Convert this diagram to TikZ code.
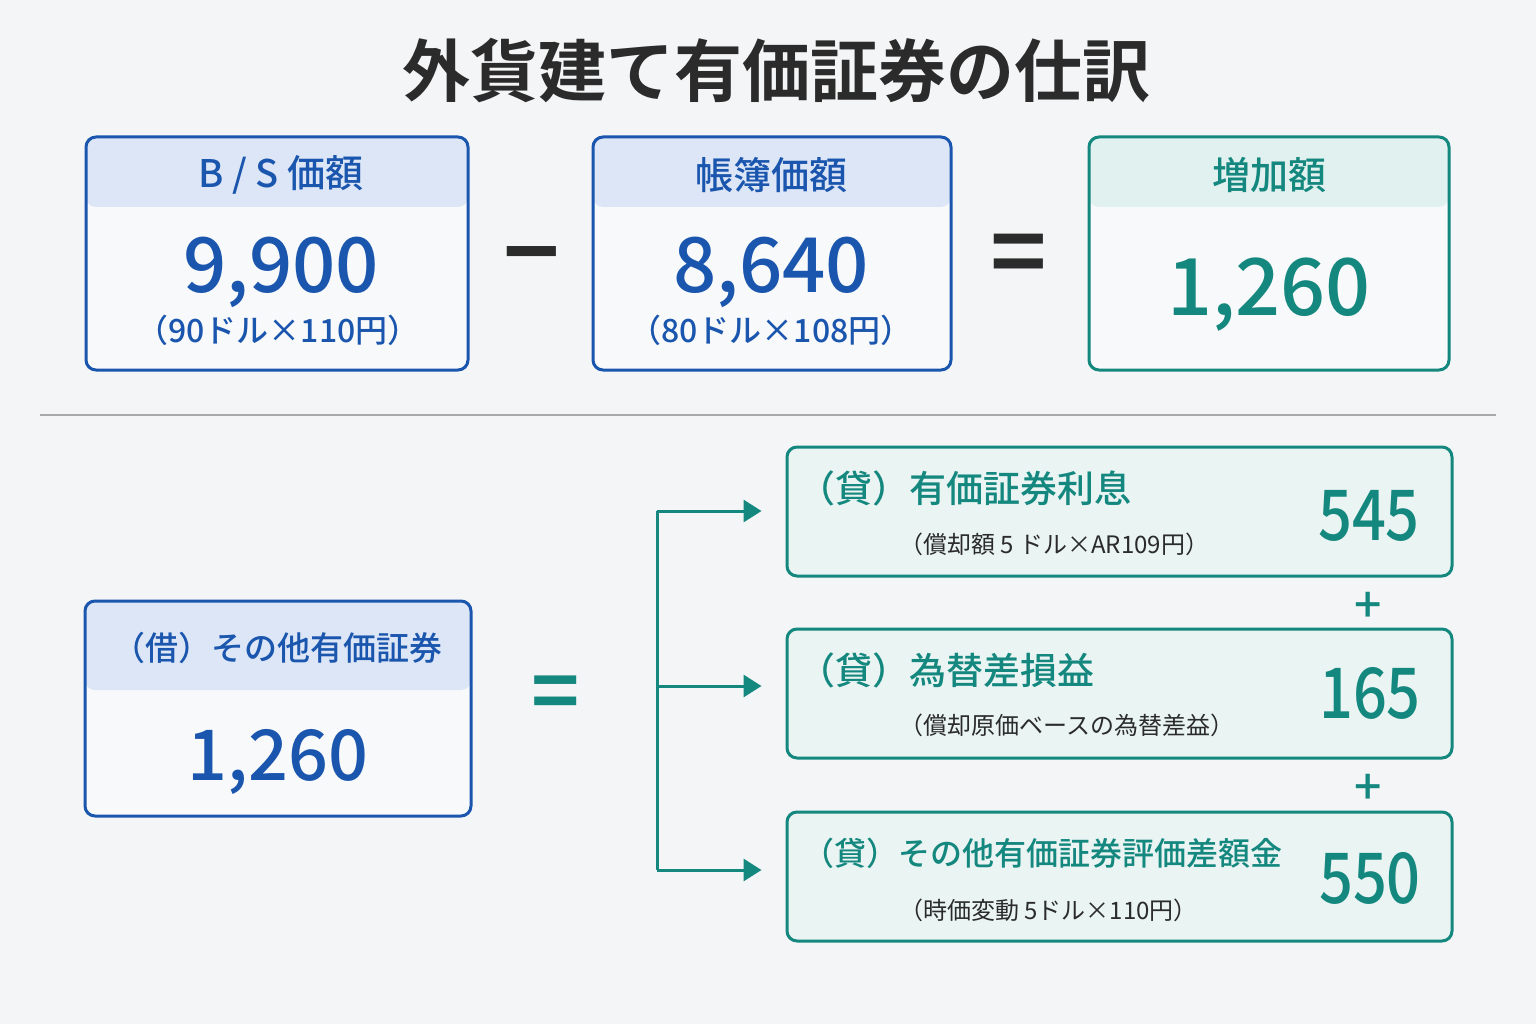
\documentclass[tikz,border=0pt]{standalone}
\usepackage{fontspec}
\setmainfont{Noto Sans CJK JP}[BoldFont={Noto Sans CJK JP Medium}]
\newfontfamily\heavyfont{Noto Sans CJK JP Bold}
\newfontfamily\condfont{Noto Sans CJK JP Medium}[FakeStretch=0.85]
\usepackage{tikz}
\usetikzlibrary{positioning,arrows.meta,calc}

\definecolor{pageBg}{HTML}{F4F5F6}
\definecolor{titleInk}{HTML}{2B2B2B}
\definecolor{bsBlue}{HTML}{1B56AE}
\definecolor{blueHdr}{HTML}{DCE6F6}
\definecolor{boxWhite}{HTML}{F8F9FA}
\definecolor{tealMain}{HTML}{14877E}
\definecolor{tealHdr}{HTML}{E1F1EF}
\definecolor{tealFill}{HTML}{E9F4F3}
\definecolor{sepGray}{HTML}{A8A8A8}

\newcommand{\fsz}[1]{\fontsize{#1}{#1}\selectfont}

\begin{document}
\begin{tikzpicture}[x=1pt, y=-1pt,
  blueBox/.style={draw=bsBlue, line width=3pt, rounded corners=10pt,
                  fill=boxWhite, inner sep=0pt},
  tealBox/.style={draw=tealMain, line width=3pt, rounded corners=10pt,
                  fill=boxWhite, inner sep=0pt},
  entryBox/.style={tealBox, fill=tealFill, minimum width=665pt,
                   minimum height=129pt},
  blueHead/.style={path picture={\fill[blueHdr]
      (path picture bounding box.north west) rectangle
      ([yshift=-#1]path picture bounding box.north east);}},
  tealHead/.style={path picture={\fill[tealHdr]
      (path picture bounding box.north west) rectangle
      ([yshift=-#1]path picture bounding box.north east);}},
  headText/.style={font=\fsz{38}\bfseries, inner sep=0pt},
  bigNum/.style={font=\fsz{76}\bfseries, inner sep=0pt, anchor=base},
  subText/.style={font=\fsz{32}\bfseries, inner sep=0pt},
  entryTitle/.style={font=\fsz{37}\bfseries, text=tealMain, anchor=west,
                     inner sep=0pt},
  entryNote/.style={font=\fsz{24}, text=titleInk, anchor=west, inner sep=0pt},
  entryNum/.style={font=\condfont\fsz{70}, text=tealMain,
                   inner sep=0pt, anchor=base},
  opSign/.style={font=\heavyfont\fsz{96}, inner sep=0pt},
  flowLine/.style={draw=tealMain, line width=3pt},
  flowArrow/.style={flowLine, -{Triangle[length=18pt,width=22pt]},
                    shorten >=24pt}
]
  % page
  \fill[pageBg] (0,0) rectangle (1536,1024);

  \node[font=\heavyfont\fsz{68}, text=titleInk, inner sep=0pt] (title)
    at (776,70) {外貨建て有価証券の仕訳};

  % --- upper row: B/S price - book value = increase
  \node[blueBox, blueHead=70pt, minimum width=382pt, minimum height=233pt]
    (bs) at (277,253.5) {};
  \node[headText, text=bsBlue] (bsHead) at (281,175) {B / S 価額};
  \node[bigNum, text=bsBlue] (bsVal) at (281,293) {9,900};
  \node[subText, text=bsBlue] (bsNote) at (278,330) {（90ドル×110円）};

  \node[opSign, text=titleInk] (minus) at (532,267) {−};

  \node[blueBox, blueHead=70pt, minimum width=358pt, minimum height=233pt]
    (book) at (772,253.5) {};
  \node[headText, text=bsBlue] (bookHead) at (771,175) {帳簿価額};
  \node[bigNum, text=bsBlue] (bookVal) at (771,293) {8,640};
  \node[subText, text=bsBlue] (bookNote) at (771,330) {（80ドル×108円）};

  \node[opSign, text=titleInk] (eqTop) at (1019,261) {=};

  \node[tealBox, tealHead=70pt, minimum width=360pt, minimum height=233pt]
    (incr) at (1269,253.5) {};
  \node[headText, text=tealMain] (incrHead) at (1269,175) {増加額};
  \node[bigNum, font=\fsz{79}\bfseries, text=tealMain] (incrVal)
    at (1269,315) {1,260};

  \draw[sepGray, line width=2pt] (40,415) -- (1496,415);

  % --- lower row: journal entry
  \node[blueBox, blueHead=89pt, minimum width=386pt, minimum height=215pt]
    (debit) at (278,708.5) {};
  \node[headText, font=\fsz{33}\bfseries, text=bsBlue] (debitHead)
    at (277,648) {（借）その他有価証券};
  \node[bigNum, font=\fsz{70}\bfseries, text=bsBlue] (debitVal)
    at (278,780) {1,260};

  \node[opSign, font=\heavyfont\fsz{82}, text=tealMain] (eqLow)
    at (556,699) {=};

  \node[entryBox] (cr1) at (1119.5,511.5) {};
  \node[entryBox] (cr2) at (1119.5,693.5) {};
  \node[entryBox] (cr3) at (1119.5,876.5) {};

  \node[entryTitle] (cr1Title) at (798,488) {（貸）有価証券利息};
  \node[entryNote] (cr1Note) at (899,544) {（償却額 5 ドル×AR109円）};
  \node[entryNum] (cr1Val) at (1369,540) {545};

  \node[entryTitle] (cr2Title) at (798,670) {（貸）為替差損益};
  \node[entryNote] (cr2Note) at (899,725) {（償却原価ベースの為替差益）};
  \node[entryNum] (cr2Val) at (1370,718) {165};

  \node[entryTitle, font=\fsz{32}\bfseries] (cr3Title) at (802,853)
    {（貸）その他有価証券評価差額金};
  \node[entryNote] (cr3Note) at (899,910) {（時価変動 5ドル×110円）};
  \node[entryNum] (cr3Val) at (1370,903) {550};

  \node[font=\fsz{48}\bfseries, text=tealMain, inner sep=0pt] (plus1)
    at (1368,607) {+};
  \node[font=\fsz{48}\bfseries, text=tealMain, inner sep=0pt] (plus2)
    at (1368,789) {+};

  % bracket and arrows
  \coordinate (j1) at (657,511);
  \coordinate (j2) at (657,686);
  \coordinate (j3) at (657,870);
  \draw[flowLine] (j1) -- (j3);
  \draw[flowArrow] (j1) -- (j1 -| cr1.west);
  \draw[flowArrow] (j2) -- (j2 -| cr2.west);
  \draw[flowArrow] (j3) -- (j3 -| cr3.west);
\end{tikzpicture}
\end{document}
